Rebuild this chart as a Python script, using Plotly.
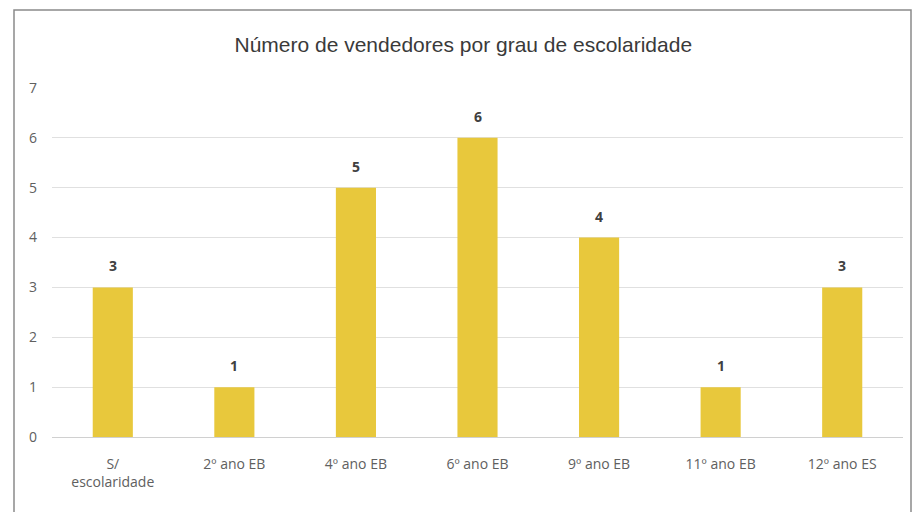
import plotly.graph_objects as go

categories = ["S/<br>escolaridade", "2º ano EB", "4º ano EB", "6º ano EB",
              "9º ano EB", "11º ano EB", "12º ano ES"]
values = [3, 1, 5, 6, 4, 1, 3]
y_ticks = [0, 1, 2, 3, 4, 5, 6, 7]

fig = go.Figure(go.Bar(
    x=categories, y=values,
    marker=dict(color="#E8C83C", line=dict(width=0)),
))

for c, v in zip(categories, values):
    fig.add_annotation(x=c, y=v, text="<b>%d</b>" % v, showarrow=False,
                       yanchor="bottom", yshift=10,
                       font=dict(family="Open Sans", size=14, color="#404040"))

L, R, T, B = 52, 9, 88, 75
W, H = 912, 512
pw, ph = W - L - R, H - T - B

fig.update_layout(
    width=W, height=H,
    margin=dict(l=L, r=R, t=T, b=B),
    paper_bgcolor="white", plot_bgcolor="white",
    bargap=0.67,
    showlegend=False,
    title=dict(text="Número de vendedores por grau de escolaridade",
               x=0.508, xanchor="center", y=1 - 45 / H, yanchor="middle",
               font=dict(family="Liberation Sans", size=21, color="#3a3a3a")),
    xaxis=dict(tickfont=dict(family="Open Sans", size=14, color="#606060"),
               showline=True, linecolor="#d0d0d0", linewidth=1,
               ticks="", showgrid=False, ticklabelstandoff=14),
    yaxis=dict(range=[0, 7], tickvals=y_ticks, showgrid=True,
               gridcolor="#e0e0e0", gridwidth=1, zeroline=False,
               tickfont=dict(family="Open Sans", size=14, color="#606060"),
               ticks="", ticklabelstandoff=14),
    shapes=[dict(type="rect", xref="paper", yref="paper",
                 x0=(14 - L) / pw, x1=(W - 1 - L) / pw,
                 y0=-(H + 5 - (H - B)) / ph, y1=(H - B - 10) / ph,
                 line=dict(color="#8a8a8a", width=1.5), layer="below")],
)

fig.write_html("out.html", config={"displayModeBar": False},
               post_script="document.body.style.margin='0';document.body.style.overflow='hidden';")
